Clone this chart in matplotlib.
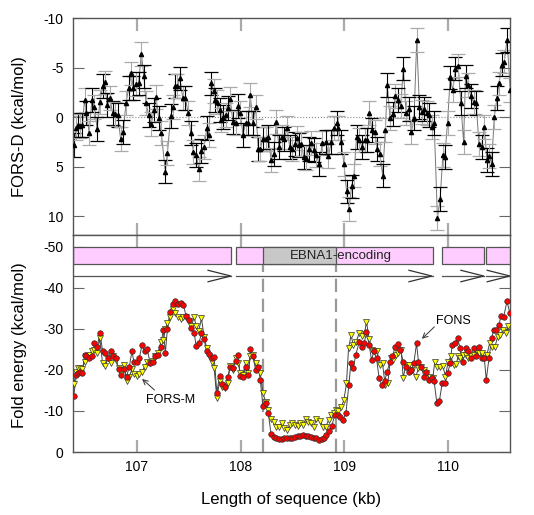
import matplotlib
matplotlib.use("Agg")
import matplotlib.pyplot as plt
from matplotlib.patches import Rectangle

plt.rcParams['font.family'] = ['Liberation Sans', 'DejaVu Sans']
plt.rcParams['axes.unicode_minus'] = False

# ---- top panel: FORS-D along the sequence (kb, kcal/mol) ----
FORS_D_KB = [
    106.390, 106.416, 106.435, 106.455, 106.474, 106.494, 106.513, 106.539, 106.565, 106.590,
    106.616, 106.642, 106.668, 106.687, 106.713, 106.739, 106.765, 106.790, 106.816, 106.842,
    106.868, 106.894, 106.919, 106.945, 106.965, 106.990, 107.016, 107.042, 107.068, 107.087,
    107.113, 107.139, 107.165, 107.184, 107.210, 107.235, 107.274, 107.294, 107.326, 107.352,
    107.371, 107.390, 107.416, 107.442, 107.468, 107.494, 107.519, 107.545, 107.571, 107.597,
    107.623, 107.648, 107.674, 107.694, 107.719, 107.739, 107.758, 107.777, 107.797, 107.816,
    107.835, 107.855, 107.874, 107.900, 107.926, 107.952, 107.977, 107.997, 108.023, 108.048,
    108.074, 108.094, 108.119, 108.145, 108.171, 108.190, 108.216, 108.242, 108.268, 108.294,
    108.319, 108.345, 108.371, 108.397, 108.423, 108.448, 108.474, 108.500, 108.526, 108.545,
    108.565, 108.584, 108.610, 108.635, 108.661, 108.681, 108.706, 108.732, 108.758,
    108.790, 108.823, 108.848, 108.877, 108.900, 108.926, 108.945, 108.971, 108.997, 109.023,
    109.048, 109.071, 109.094, 109.119, 109.145, 109.171, 109.197, 109.223, 109.242, 109.268,
    109.294, 109.319, 109.345, 109.371, 109.397, 109.416, 109.442, 109.468, 109.494, 109.519,
    109.545, 109.571, 109.597, 109.623, 109.648, 109.674, 109.700, 109.726, 109.752, 109.771,
    109.797, 109.823, 109.848, 109.868, 109.900, 109.926, 109.952, 109.971, 109.997, 110.023,
    110.048, 110.074, 110.100, 110.126, 110.152, 110.171, 110.197, 110.223, 110.248, 110.274,
    110.300, 110.326, 110.352, 110.377, 110.397, 110.423, 110.448, 110.474, 110.494, 110.519,
    110.545, 110.571, 110.603,
]
FORS_D = [
    2.8, 1.1, 0.8, 0.9, 0.8, -1.7, -0.4, 1.6, -1.7, -1.0,
    1.2, -1.5, -3.1, -3.5, -1.2, -1.9, -0.4, -0.3, -0.2, 2.2,
    1.5, -1.4, -2.9, -4.4, -2.9, -3.3, -3.4, -6.4, -4.1, -1.4,
    -0.2, 0.7, -0.7, -2.0, 0.1, 1.6, 5.5, 3.6, -0.1, -1.0,
    -3.1, -3.1, -3.9, -1.9, -1.9, -0.4, 1.6, 3.5, 3.8, 5.2,
    3.4, 3.0, 1.1, 1.8, -3.4, -2.6, -1.7, -1.5, -0.7, 0.3,
    0.0, -0.2, -0.9, -1.8, 0.5, 0.6, -1.1, -0.4, 1.8, 0.6,
    0.6, -2.2, 0.6, -1.0, 3.2, 3.2, 2.2, 2.2, 2.0, 4.3,
    3.7, 0.5, 3.0, 2.0, 2.2, 1.1, 3.0, 3.2, 2.7, 2.1,
    2.8, 2.7, 4.0, 4.1, 3.2, 2.6, 3.3, 3.8, 4.7,
    2.6, 2.5, 3.9, 2.5, 1.1, 0.6, 1.1, 2.5, 4.7, 7.5,
    9.3, 7.0, 5.9, 2.0, 2.3, 3.0, 2.3, 2.3, -0.4, 1.3,
    1.5, 3.2, 3.7, 5.9, 1.3, -3.2, 0.1, -0.3, -2.1, -1.7,
    -1.1, -4.9, -0.4, -0.8, 1.5, 0.1, -7.8, -1.0, -0.5, -0.8,
    -0.4, -0.2, 1.0, 0.6, 10.2, 8.3, 3.8, 4.0, 0.6, -4.0,
    -2.7, -4.9, -5.2, -1.4, 2.5, -4.1, -3.2, -2.1, -1.5, -1.4,
    2.7, 3.0, 1.0, 4.3, 3.9, 4.7, 0.0, -1.9, -3.4, -5.3,
    -5.6, -7.8, -2.7,
]
FORS_D_ERR = 1.2

# ---- bottom panel: fold energies (kcal/mol) ----
FONS_KB = [
    106.390, 106.416, 106.435, 106.455, 106.474, 106.494, 106.513, 106.539, 106.565, 106.590,
    106.616, 106.642, 106.668, 106.694, 106.719, 106.745, 106.771, 106.797, 106.823, 106.848,
    106.874, 106.900, 106.926, 106.952, 106.971, 106.997, 107.023, 107.048, 107.074, 107.100,
    107.126, 107.152, 107.177, 107.203, 107.229, 107.255, 107.274, 107.294, 107.319, 107.345,
    107.371, 107.397, 107.423, 107.448, 107.474, 107.500, 107.526, 107.552, 107.571, 107.597,
    107.623, 107.648, 107.674, 107.700, 107.726, 107.745, 107.771, 107.797, 107.823, 107.848,
    107.874, 107.900, 107.926, 107.952, 107.977, 107.997, 108.023, 108.048, 108.074, 108.094,
    108.119, 108.145, 108.171, 108.190, 108.216, 108.242, 108.268, 108.294, 108.319, 108.345,
    108.371, 108.397, 108.423, 108.448, 108.474, 108.500, 108.526, 108.552, 108.577, 108.603,
    108.629, 108.655, 108.681, 108.706, 108.732, 108.758, 108.781, 108.805, 108.829, 108.855,
    108.880, 108.909, 108.941, 108.964, 108.990, 109.016, 109.045, 109.064, 109.087, 109.112,
    109.144, 109.170, 109.193, 109.215, 109.241, 109.264, 109.286, 109.312, 109.337, 109.363,
    109.389, 109.415, 109.440, 109.466, 109.492, 109.518, 109.543, 109.569, 109.595, 109.621,
    109.646, 109.672, 109.698, 109.717, 109.743, 109.769, 109.794, 109.820, 109.848, 109.868,
    109.894, 109.919, 109.945, 109.971, 109.997, 110.023, 110.042, 110.068, 110.094, 110.119,
    110.145, 110.171, 110.197, 110.223, 110.248, 110.274, 110.300, 110.326, 110.352, 110.371,
    110.397, 110.423, 110.442, 110.468, 110.494, 110.513, 110.539, 110.571, 110.597,
]
FONS = [
    -13.7, -18.8, -19.3, -19.6, -19.3, -23.7, -23.4, -22.8, -23.3, -26.5,
    -25.5, -29.1, -24.7, -24.2, -22.8, -24.5, -23.3, -22.8, -20.2, -18.8,
    -20.2, -18.4, -20.8, -24.5, -22.0, -22.0, -22.8, -26.1, -24.5, -25.0,
    -21.8, -22.0, -23.4, -23.7, -25.7, -29.8, -24.2, -29.9, -34.2, -36.1,
    -36.7, -36.1, -36.4, -35.9, -33.2, -32.2, -30.2, -29.1, -25.9, -26.5,
    -28.9, -27.5, -24.5, -23.9, -22.8, -23.1, -14.5, -18.5, -16.6, -15.9,
    -18.2, -20.8, -20.4, -22.3, -23.7, -18.5, -18.2, -20.8, -18.8, -25.0,
    -23.3, -20.0, -20.8, -17.6, -11.2, -11.9, -9.4, -4.4, -3.7, -3.3,
    -3.1, -3.2, -3.3, -3.4, -3.3, -3.5, -3.7, -3.9, -4.0, -4.1,
    -4.0, -3.8, -3.7, -3.5, -3.3, -3.0, -3.1, -3.5, -4.1, -5.0,
    -6.3, -9.0, -9.0, -8.5, -7.8, -9.4, -16.3, -21.6, -20.4, -23.7,
    -26.7, -25.7, -26.5, -29.3, -26.1, -22.4, -24.5, -22.8, -18.0, -16.3,
    -17.2, -19.6, -22.0, -23.3, -25.7, -26.3, -24.9, -22.0, -20.8, -19.6,
    -20.0, -21.6, -26.5, -22.0, -20.8, -18.4, -19.6, -17.6, -18.0, -17.2,
    -12.0, -12.5, -16.7, -16.7, -19.2, -21.6, -26.1, -26.5, -27.7, -25.3,
    -22.0, -25.3, -24.5, -22.8, -25.3, -23.3, -25.7, -22.8, -22.8, -17.6,
    -22.8, -27.7, -29.8, -29.8, -31.0, -33.2, -33.0, -36.7, -34.0,
]
FORS_M_KB = [
    106.390, 106.416, 106.435, 106.455, 106.474, 106.494, 106.513, 106.539, 106.565, 106.590,
    106.616, 106.642, 106.668, 106.694, 106.719, 106.745, 106.771, 106.797, 106.823, 106.848,
    106.874, 106.900, 106.926, 106.952, 106.971, 106.997, 107.023, 107.048, 107.074, 107.100,
    107.126, 107.152, 107.177, 107.203, 107.229, 107.255, 107.274, 107.294, 107.319, 107.345,
    107.371, 107.397, 107.423, 107.448, 107.474, 107.500, 107.526, 107.552, 107.571, 107.597,
    107.623, 107.648, 107.674, 107.700, 107.726, 107.745, 107.771, 107.797, 107.823, 107.848,
    107.874, 107.900, 107.926, 107.952, 107.977, 107.997, 108.023, 108.048, 108.074, 108.094,
    108.119, 108.145, 108.171, 108.190, 108.216, 108.242, 108.268, 108.294, 108.319, 108.345,
    108.371, 108.397, 108.423, 108.448, 108.474, 108.500, 108.526, 108.552, 108.577, 108.603,
    108.629, 108.655, 108.681, 108.706, 108.732, 108.771, 108.797, 108.823, 108.849, 108.874,
    108.900, 108.919, 108.945, 108.971, 108.997, 109.022, 109.042, 109.067, 109.087, 109.112,
    109.144, 109.170, 109.196, 109.215, 109.241, 109.267, 109.292, 109.318, 109.344, 109.370,
    109.395, 109.421, 109.447, 109.473, 109.498, 109.524, 109.550, 109.569, 109.595, 109.627,
    109.653, 109.691, 109.717, 109.743, 109.769, 109.794, 109.829, 109.855, 109.874, 109.900,
    109.926, 109.952, 109.977, 110.003, 110.029, 110.055, 110.081, 110.100, 110.119, 110.145,
    110.171, 110.197, 110.223, 110.248, 110.274, 110.300, 110.326, 110.352, 110.377, 110.403,
    110.429, 110.455, 110.481, 110.506, 110.532, 110.558, 110.584,
]
FORS_M = [
    -16.6, -19.6, -20.4, -20.4, -20.2, -22.0, -23.4, -23.7, -24.5, -24.9,
    -24.2, -27.7, -21.6, -21.0, -22.8, -21.6, -23.4, -22.4, -20.4, -19.3,
    -21.2, -17.2, -18.4, -20.2, -19.0, -18.5, -19.0, -19.6, -20.8, -22.0,
    -21.8, -22.3, -23.3, -24.1, -26.7, -27.3, -29.9, -31.4, -32.8, -34.8,
    -33.8, -32.8, -32.4, -32.8, -32.8, -32.0, -30.6, -33.0, -30.7, -29.6,
    -32.6, -28.1, -25.3, -23.3, -22.0, -20.4, -13.1, -17.2, -15.9, -15.5,
    -16.9, -21.0, -20.0, -22.8, -21.6, -19.2, -18.8, -21.6, -19.2, -23.3,
    -23.7, -21.6, -20.4, -19.2, -14.3, -12.3, -10.2, -8.0, -7.4, -6.2,
    -6.2, -7.0, -5.8, -5.4, -6.6, -7.0, -6.6, -6.4, -7.0, -6.6,
    -8.0, -7.4, -7.0, -6.2, -8.0, -7.6, -6.0, -6.2, -7.8, -9.0,
    -9.4, -10.2, -10.1, -10.9, -12.7, -16.7, -25.3, -28.5, -26.1, -26.7,
    -28.9, -28.3, -28.8, -31.8, -27.5, -24.9, -24.5, -24.5, -21.2, -21.6,
    -16.3, -16.9, -22.8, -22.4, -23.7, -24.1, -24.9, -18.0, -21.2, -21.2,
    -20.0, -18.4, -20.4, -20.8, -20.0, -19.3, -18.4, -18.0, -22.0, -20.8,
    -20.8, -21.0, -18.4, -22.0, -23.3, -21.2, -21.5, -23.3, -22.8, -23.7,
    -23.7, -22.8, -23.3, -23.7, -24.9, -24.1, -24.1, -22.8, -23.7, -26.5,
    -25.7, -25.7, -28.1, -28.5, -29.8, -28.9, -30.6,
]

# gene segments (kb) drawn as boxes and direction arrows
GENE_START = [106.38, 107.955, 109.941, 110.365]
GENE_END = [107.906, 109.854, 110.346, 110.70]
ARROW_TIPS = [107.906, 109.845, 110.346, 110.60]
EBNA1 = (108.215, 108.919)

XLIM = (106.383, 110.60)

fig = plt.figure(figsize=(5.34, 5.15), dpi=100)
ax1 = fig.add_axes([73 / 534, 1 - 235 / 515, 437 / 534, 217 / 515])
ax2 = fig.add_axes([73 / 534, 1 - 452 / 515, 437 / 534, 217 / 515])

frame_col = '#555555'
for ax in (ax1, ax2):
    ax.set_xlim(*XLIM)
    for sp in ax.spines.values():
        sp.set_color(frame_col)
        sp.set_linewidth(1.0)
    ax.tick_params(axis='y', direction='in', length=8, width=0.8, color='#666666',
                   left=True, right=True, labelsize=10, pad=7)
    ax.tick_params(axis='x', direction='in', length=9, width=1.6, color='#aaaaaa',
                   top=True, bottom=True, labelsize=10, pad=6)
    ax.set_xticks([107, 108, 109, 110])

# top panel
ax1.set_ylim(11.9, -10)
ax1.set_yticks([-10, -5, 0, 5, 10])
ax1.tick_params(axis='x', labelbottom=False)
ax1.axhline(0, color='#888888', linestyle=':', linewidth=0.8, zorder=1)
ax1.plot(FORS_D_KB, FORS_D, color='#777777', linewidth=0.7, zorder=2)
for i, (xk, yv) in enumerate(zip(FORS_D_KB, FORS_D)):
    ecol = 'black' if i % 2 == 0 else '#aaaaaa'
    ax1.errorbar(xk, yv, yerr=FORS_D_ERR, fmt='none', ecolor=ecol,
                 elinewidth=0.8, capsize=5, capthick=0.9, zorder=2)
ax1.plot(FORS_D_KB, FORS_D, linestyle='none', marker='^', markersize=3,
         color='black', zorder=3)

# bottom panel
ax2.set_ylim(0, -52.9)
ax2.set_yticks([0, -10, -20, -30, -40, -50])

box_lo, box_hi = -49.9, -45.9
arrow_y = -42.9
for gs, ge in zip(GENE_START, GENE_END):
    ax2.add_patch(Rectangle((gs, box_lo), ge - gs, box_hi - box_lo,
                            facecolor='#ffccff', edgecolor='#555555',
                            linewidth=0.9, zorder=2, clip_on=True))
    ax2.plot([gs, min(ge, XLIM[1])], [arrow_y, arrow_y], color='#555555',
             linewidth=0.9, zorder=2)
ax2.add_patch(Rectangle((EBNA1[0], box_lo), EBNA1[1] - EBNA1[0], box_hi - box_lo,
                        facecolor='#c8c8c8', edgecolor='#555555',
                        linewidth=0.9, zorder=3))
ax2.text(108.475, (box_lo + box_hi) / 2, 'EBNA1-encoding', fontsize=9.5,
         ha='left', va='center', color='#222222', zorder=4)
for tip in ARROW_TIPS:
    ax2.plot([tip - 0.22, tip, tip - 0.22], [arrow_y - 1.4, arrow_y, arrow_y + 1.4],
             color='#333333', linewidth=0.9, zorder=2, clip_on=False)

for xv in EBNA1:
    ax2.plot([xv, xv], [0, box_lo], color='#999999', linestyle=(0, (6, 3)),
             linewidth=1.6, zorder=1)

ax2.plot(FORS_M_KB, FORS_M, color='#444444', linewidth=0.7, zorder=4)
ax2.plot(FONS_KB, FONS, color='#444444', linewidth=0.7, zorder=4)
ax2.plot(FORS_M_KB, FORS_M, linestyle='none', marker='v', markersize=4,
         markerfacecolor='#ffff00', markeredgecolor='#333333', markeredgewidth=0.5, zorder=5)
ax2.plot(FONS_KB, FONS, linestyle='none', marker='o', markersize=4,
         markerfacecolor='#ff0000', markeredgecolor='#333333', markeredgewidth=0.5, zorder=6)

arrow_kw = dict(arrowstyle='->', color='#333333', linewidth=0.7,
                shrinkA=0, shrinkB=0, mutation_scale=9)
ax2.annotate('', xy=(107.05, -17.8), xytext=(107.17, -15.1), arrowprops=arrow_kw)
ax2.text(107.32, -12.7, 'FORS-M', fontsize=9, ha='center', va='center')
ax2.annotate('', xy=(109.75, -27.6), xytext=(109.87, -30.5), arrowprops=arrow_kw)
ax2.text(110.05, -32.0, 'FONS', fontsize=9, ha='center', va='center')

ax2.set_xlabel('Length of sequence (kb)', fontsize=12, labelpad=13)
fig.text(20 / 534, 1 - 127 / 515, 'FORS-D (kcal/mol)', rotation=90,
         fontsize=12, ha='center', va='center')
fig.text(20 / 534, 1 - 345 / 515, 'Fold energy (kcal/mol)', rotation=90,
         fontsize=12, ha='center', va='center')

fig.savefig('out.png', dpi=100)
